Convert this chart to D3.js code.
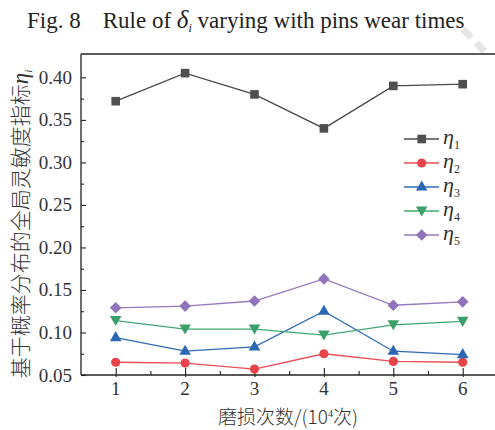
<!DOCTYPE html>
<html>
<head>
<meta charset="utf-8">
<script src="https://cdn.jsdelivr.net/npm/d3@7"></script>
<style>
  html, body { margin: 0; padding: 0; background: #ffffff; }
  svg { display: block; }
</style>
</head>
<body>
<svg id="chart" width="495" height="430"></svg>
<script>
// Pin wear counts (×10^4)
const wearTimes = [1, 2, 3, 4, 5, 6];

// Global sensitivity index η1..η5 per wear count
const eta1 = [0.372, 0.405, 0.380, 0.340, 0.390, 0.392];
const eta2 = [0.065, 0.064, 0.057, 0.075, 0.066, 0.065];
const eta3 = [0.094, 0.078, 0.083, 0.125, 0.078, 0.074];
const eta4 = [0.114, 0.104, 0.104, 0.097, 0.109, 0.113];
const eta5 = [0.129, 0.131, 0.137, 0.163, 0.132, 0.136];

const seriesNames = ["1", "2", "3", "4", "5"];
const yTickValues = [0.05, 0.10, 0.15, 0.20, 0.25, 0.30, 0.35, 0.40];
const xTickValues = [1, 2, 3, 4, 5, 6];

const series = [
  { sub: seriesNames[0], values: eta1, line: "#4a4a4a", fill: "#4f4f4f", shape: "square" },
  { sub: seriesNames[1], values: eta2, line: "#ea4d55", fill: "#e8434b", shape: "circle" },
  { sub: seriesNames[2], values: eta3, line: "#2f6ab3", fill: "#2b67b2", shape: "up" },
  { sub: seriesNames[3], values: eta4, line: "#3fa870", fill: "#3a9f68", shape: "down" },
  { sub: seriesNames[4], values: eta5, line: "#9479bd", fill: "#8f73bb", shape: "diamond" }
];

const svg = d3.select("#chart");
const plotLeft = 81, plotTop = 54, plotBottom = 375;

const x = d3.scaleLinear().domain([0.5, 6.5]).range([plotLeft, plotLeft + 6 * 69.4]);
const y = d3.scaleLinear().domain([0.05, 0.4275]).range([plotBottom, plotTop]);

const serif = "'Liberation Serif', 'Times New Roman', serif";
const cjk = "'Noto Sans CJK SC', 'Noto Sans CJK JP', sans-serif";

// Light diagonal stroke at the top right corner
svg.append("line")
  .attr("x1", 463).attr("y1", 29).attr("x2", 486).attr("y2", 53)
  .attr("stroke", "#e6e6e6").attr("stroke-width", 7)
  .attr("stroke-dasharray", "12 7");

// Title
const title = svg.append("text")
  .attr("x", 27).attr("y", 28)
  .attr("font-family", serif).attr("font-size", 23)
  .attr("fill", "#222");
title.append("tspan").text("Fig. 8");
title.append("tspan").attr("dx", 22).text("Rule of ");
title.append("tspan").attr("font-style", "italic").attr("font-size", 25).text("δ");
title.append("tspan").attr("font-style", "italic").attr("font-size", 12).attr("dy", 4).text("i");
title.append("tspan").attr("dy", -4).text(" varying with pins wear times");

// Frame: top edge
svg.append("line").attr("x1", plotLeft).attr("y1", plotTop).attr("x2", 495).attr("y2", plotTop)
  .attr("stroke", "#222").attr("stroke-width", 1.3);

// Y axis with inward ticks
const yAxis = d3.axisRight(y).tickValues(yTickValues).tickSize(5).tickFormat("");
const yg = svg.append("g").attr("transform", `translate(${plotLeft},0)`).call(yAxis);
yg.select(".domain").remove();
yg.selectAll(".tick line").attr("stroke", "#222").attr("stroke-width", 1.1);
const yMinor = d3.axisRight(y).tickValues([0.075, 0.125, 0.175, 0.225, 0.275, 0.325, 0.375]).tickSize(3).tickFormat("");
const ymg = svg.append("g").attr("transform", `translate(${plotLeft},0)`).call(yMinor);
ymg.select(".domain").remove();
ymg.selectAll(".tick line").attr("stroke", "#222").attr("stroke-width", 1.1);
svg.append("line").attr("x1", plotLeft).attr("y1", plotTop).attr("x2", plotLeft).attr("y2", plotBottom)
  .attr("stroke", "#222").attr("stroke-width", 1.3);

// Y tick labels
svg.append("g").selectAll("text").data(yTickValues).join("text")
  .attr("x", plotLeft - 9).attr("y", d => y(d) + 6.5)
  .attr("text-anchor", "end")
  .attr("font-family", serif).attr("font-size", 19).attr("fill", "#333")
  .text(d => d3.format(".2f")(d));

// X axis with inward ticks
const xAxis = d3.axisTop(x).tickValues(xTickValues).tickSize(7).tickFormat("");
const xg = svg.append("g").attr("transform", `translate(0,${plotBottom})`).call(xAxis);
xg.select(".domain").remove();
xg.selectAll(".tick line").attr("stroke", "#222").attr("stroke-width", 1.1).attr("y2", -7).attr("y1", 2);
const xMinor = d3.axisTop(x).tickValues([1.5, 2.5, 3.5, 4.5, 5.5]).tickSize(4).tickFormat("");
const xmg = svg.append("g").attr("transform", `translate(0,${plotBottom})`).call(xMinor);
xmg.select(".domain").remove();
xmg.selectAll(".tick line").attr("stroke", "#222").attr("stroke-width", 1.1);
svg.append("line").attr("x1", plotLeft).attr("y1", plotBottom).attr("x2", 495).attr("y2", plotBottom)
  .attr("stroke", "#222").attr("stroke-width", 1.3);

// X tick labels
svg.append("g").selectAll("text").data(xTickValues).join("text")
  .attr("x", d => x(d)).attr("y", 395)
  .attr("text-anchor", "middle")
  .attr("font-family", serif).attr("font-size", 19).attr("fill", "#333")
  .text(d => d);

// Axis titles
const xt = svg.append("text")
  .attr("x", 288).attr("y", 424)
  .attr("text-anchor", "middle")
  .attr("font-family", cjk).attr("font-size", 19).attr("font-weight", 300).attr("fill", "#333");
xt.append("tspan").text("磨损次数/(10");
xt.append("tspan").attr("font-family", serif).attr("font-size", 10).attr("dy", -7).text("4");
xt.append("tspan").attr("dy", 7).text("次)");

const yt = svg.append("text")
  .attr("transform", "translate(28,224) rotate(-90)")
  .attr("text-anchor", "middle")
  .attr("font-family", cjk).attr("font-size", 21).attr("font-weight", 300).attr("fill", "#333");
yt.append("tspan").text("基于概率分布的全局灵敏度指标");
yt.append("tspan").attr("font-family", serif).attr("font-style", "italic").attr("font-size", 23).text("η");
yt.append("tspan").attr("font-family", serif).attr("font-style", "italic").attr("font-size", 11).attr("dy", 4).text("i");

// Marker shapes
function marker(sel, shape, color) {
  if (shape === "circle") {
    sel.append("circle").attr("r", 4.6).attr("fill", color);
  } else if (shape === "square") {
    sel.append("rect").attr("x", -4.3).attr("y", -4.3).attr("width", 8.6).attr("height", 8.6).attr("fill", color);
  } else if (shape === "up") {
    sel.append("path").attr("d", "M0,-6.5L5.8,3.6L-5.8,3.6Z").attr("fill", color);
  } else if (shape === "down") {
    sel.append("path").attr("d", "M0,5.5L5.8,-4.6L-5.8,-4.6Z").attr("fill", color);
  } else if (shape === "diamond") {
    sel.append("path").attr("d", "M0,-5.8L5.8,0L0,5.8L-5.8,0Z").attr("fill", color);
  }
}

const line = d3.line().x((d, i) => x(wearTimes[i])).y(d => y(d));

series.forEach(s => {
  svg.append("path")
    .datum(s.values)
    .attr("fill", "none")
    .attr("stroke", s.line)
    .attr("stroke-width", 1.3)
    .attr("d", line);
  s.values.forEach((v, i) => {
    const g = svg.append("g").attr("transform", `translate(${x(wearTimes[i])},${y(v)})`);
    marker(g, s.shape, s.fill);
  });
});

// Legend
const legend = svg.append("g");
series.forEach((s, i) => {
  const cy = 139 + i * 24;
  legend.append("line")
    .attr("x1", 404).attr("x2", 439).attr("y1", cy).attr("y2", cy)
    .attr("stroke", s.line).attr("stroke-width", 1.3);
  marker(legend.append("g").attr("transform", `translate(421.7,${cy})`), s.shape, s.fill);
  const t = legend.append("text")
    .attr("x", 443).attr("y", cy + 5)
    .attr("font-family", serif).attr("font-style", "italic")
    .attr("font-size", 22).attr("fill", "#333");
  t.append("tspan").text("η");
  t.append("tspan").attr("font-style", "normal").attr("font-size", 12).attr("dy", 5).text(s.sub);
});
</script>
</body>
</html>
